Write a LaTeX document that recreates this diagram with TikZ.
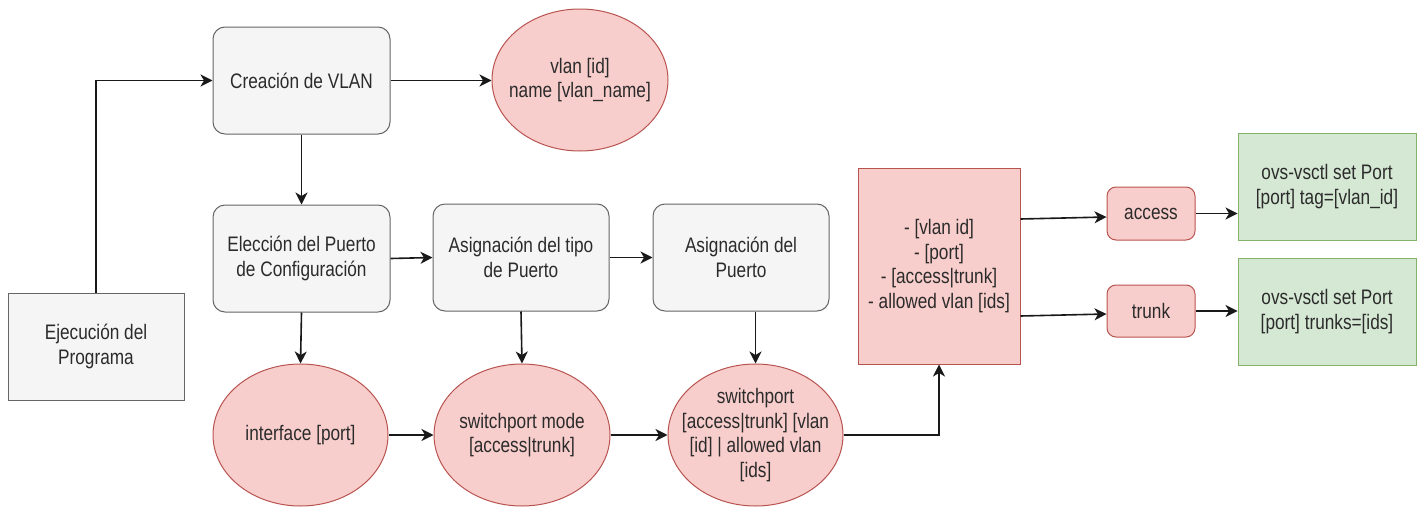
\documentclass[tikz,border=0pt]{standalone}
\usepackage{fontspec}
\setmainfont{Liberation Sans}[FakeStretch=0.82]
\usetikzlibrary{shapes.geometric,arrows.meta}
\definecolor{grayfill}{HTML}{F5F5F5}
\definecolor{graydraw}{HTML}{666666}
\definecolor{pinkfill}{HTML}{F8CECC}
\definecolor{pinkdraw}{HTML}{B85450}
\definecolor{greenfill}{HTML}{D5E8D4}
\definecolor{greendraw}{HTML}{82B366}
\definecolor{txt}{HTML}{2B2B2B}
\begin{document}
\begin{tikzpicture}[x=1pt,y=-1pt,
  base/.style={inner sep=0pt,align=center,text=txt,line width=1pt,
    font=\fontsize{21}{24.5}\selectfont},
  graybox/.style={base,rectangle,rounded corners=12pt,fill=grayfill,draw=graydraw,
    minimum width=177pt,minimum height=107pt},
  plainbox/.style={base,rectangle,fill=grayfill,draw=graydraw,
    minimum width=176pt,minimum height=107pt},
  pinkoval/.style={base,ellipse,fill=pinkfill,draw=pinkdraw,inner sep=-30pt,
    minimum width=176pt,minimum height=142pt},
  pinkbox/.style={base,rectangle,fill=pinkfill,draw=pinkdraw},
  greenbox/.style={base,rectangle,fill=greenfill,draw=greendraw,
    minimum width=178pt,minimum height=107pt},
  arr/.style={line width=1.6pt,draw=black!90,-{Stealth[length=12pt,width=12pt,inset=3.5pt]}}
]
\useasboundingbox (0,0) rectangle (1421,506);

% upper branch
\node[graybox] (crea) at (301.5,80.5) {Creación de VLAN};
\node[pinkoval] (vlan) at (580,80) {vlan [id]\\name [vlan\_name]};
\node[plainbox] (ejec) at (96,346.5) {Ejecución del\\Programa};

% configuration steps
\node[graybox] (elec) at (301.5,258.5) {Elección del Puerto\\de Configuración};
\node[graybox,minimum width=176pt] (asigT) at (521,257.5) {Asignación del tipo\\de Puerto};
\node[graybox,minimum width=176pt] (asigP) at (741,257.5) {Asignación del\\Puerto};

% generated commands
\node[pinkoval,minimum width=175pt] (iface) at (300.5,435) {interface [port]};
\node[pinkoval] (swmode) at (522,435) {switchport mode\\{[}access|trunk]};
\node[pinkoval,minimum width=175pt] (sw) at (755.5,435)
  {switchport\\{[}access|trunk] [vlan\\{[}id] | allowed vlan\\{[}ids]};

% collected parameters
\node[pinkbox,minimum width=162pt,minimum height=196pt] (big) at (939,266)
  {- [vlan id]\\- [port]\\- [access|trunk]\\- allowed vlan [ids]};
\node[pinkbox,rounded corners=9pt,minimum width=88pt,minimum height=53pt] (access) at (1151,213.5) {access};
\node[pinkbox,rounded corners=9pt,minimum width=88pt,minimum height=52pt] (trunk) at (1151,311) {trunk};

% ovs-vsctl results
\node[greenbox] (g1) at (1327,186.5) {ovs-vsctl set Port\\{[}port] tag=[vlan\_id]};
\node[greenbox] (g2) at (1327,311.5) {ovs-vsctl set Port\\{[}port] trunks=[ids]};

% connectors
\draw[arr] (ejec.north) |- (crea.west);
\draw[arr] (crea.east) -- (crea.east -| vlan.west);
\draw[arr] (crea.south) -- (elec.north);
\draw[arr] (elec.east) -- (asigT.west);
\draw[arr] (asigT.east) -- (asigP.west);
\draw[arr] (elec.south) -- (iface.north);
\draw[arr] (asigT.south) -- (swmode.north);
\draw[arr] (sw.north |- asigP.south) -- (sw.north);
\draw[arr] (iface.east) -- (swmode.west);
\draw[arr] (swmode.east) -- (sw.west);
\draw[arr] (sw.east) -| (big.south);
\draw[arr] ([yshift=47pt]big.east) -- ([yshift=-3.5pt]access.west);
\draw[arr] ([yshift=-50pt]big.east) -- ([yshift=-3pt]trunk.west);
\draw[arr] (access.east) -- (access.east -| g1.west);
\draw[arr] (trunk.east) -- (trunk.east -| g2.west);
\end{tikzpicture}
\end{document}
